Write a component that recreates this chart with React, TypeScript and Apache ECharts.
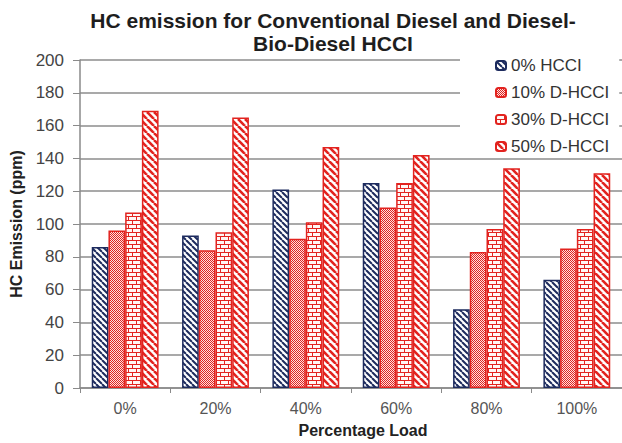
import React, { useEffect, useRef } from "react";
import * as echarts from "echarts";

const categories = ["0%", "20%", "40%", "60%", "80%", "100%"];
const seriesNames = ["0% HCCI", "10% D-HCCI", "30% D-HCCI", "50% D-HCCI"];
const hcci0 = [86, 93, 121, 125, 48, 66];
const dhcci10 = [96, 84, 91, 110, 83, 85];
const dhcci30 = [107, 95, 101, 125, 97, 97];
const dhcci50 = [169, 165, 147, 142, 134, 131];
const yTicks = [0, 20, 40, 60, 80, 100, 120, 140, 160, 180, 200];

const NAVY = "#1d2b5e";
const RED = "#e2231f";
const FONT = "'Liberation Sans', Arial, sans-serif";

function stripes(color: string, size: number, width: number) {
  const c = document.createElement("canvas");
  c.width = size;
  c.height = size;
  const g = c.getContext("2d")!;
  g.fillStyle = "#ffffff";
  g.fillRect(0, 0, size, size);
  g.strokeStyle = color;
  g.lineWidth = width;
  for (const off of [-size, 0, size]) {
    g.beginPath();
    g.moveTo(off, 0);
    g.lineTo(off + size, size);
    g.stroke();
  }
  return c;
}

function checker(color: string) {
  const c = document.createElement("canvas");
  c.width = 4;
  c.height = 4;
  const g = c.getContext("2d")!;
  g.fillStyle = "#fbe3e3";
  g.fillRect(0, 0, 4, 4);
  g.fillStyle = color;
  for (let x = 0; x < 4; x++) {
    for (let y = 0; y < 4; y++) {
      if ((x + y) % 2 === 0) g.fillRect(x, y, 1, 1);
    }
  }
  return c;
}

function bricks(color: string) {
  const c = document.createElement("canvas");
  c.width = 8;
  c.height = 8;
  const g = c.getContext("2d")!;
  g.fillStyle = "#fff6f4";
  g.fillRect(0, 0, 8, 8);
  g.fillStyle = color;
  g.fillRect(0, 0, 8, 1);
  g.fillRect(0, 4, 8, 1);
  g.fillRect(0, 0, 1, 4);
  g.fillRect(4, 4, 1, 4);
  return c;
}

export default function App() {
  const ref = useRef<HTMLDivElement>(null);
  useEffect(() => {
    if (!ref.current) return;
    const chart = echarts.init(ref.current, null, { renderer: "svg" });
    const fills = [
      { image: stripes(NAVY, 6, 2), repeat: "repeat" },
      { image: checker(RED), repeat: "repeat" },
      { image: bricks(RED), repeat: "repeat" },
      { image: stripes(RED, 7, 2.6), repeat: "repeat" },
    ];
    const borders = [NAVY, RED, RED, RED];
    const datas = [hcci0, dhcci10, dhcci30, dhcci50];
    chart.setOption({
      animation: false,
      backgroundColor: "#ffffff",
      textStyle: { fontFamily: FONT },
      title: {
        text: "HC emission for Conventional Diesel and Diesel-\nBio-Diesel HCCI",
        left: 328,
        top: 4,
        textAlign: "center",
        textStyle: {
          fontFamily: FONT,
          fontSize: 21,
          fontWeight: "bold",
          color: "#1e1e1e",
          lineHeight: 23,
        },
      },
      legend: {
        orient: "vertical",
        left: 460,
        top: 46,
        padding: [11, 10, 2, 35],
        backgroundColor: "#ffffff",
        itemWidth: 10,
        itemHeight: 9,
        itemGap: 10,
        data: seriesNames,
        textStyle: { fontFamily: FONT, fontSize: 17, color: "#333333" },
      },
      grid: { left: 80, right: 0, top: 60, bottom: 50, containLabel: false },
      xAxis: {
        type: "category",
        data: categories,
        name: "Percentage Load",
        nameLocation: "middle",
        nameGap: 34,
        nameTextStyle: {
          fontFamily: FONT,
          fontSize: 16,
          fontWeight: "bold",
          color: "#222222",
          padding: [0, 0, 0, 24],
        },
        axisLine: { lineStyle: { color: "#8a8a8a", width: 1.5 } },
        axisTick: { show: true, length: 5, lineStyle: { color: "#8a8a8a" } },
        axisLabel: { fontSize: 16, color: "#555555", margin: 12 },
      },
      yAxis: {
        type: "value",
        min: yTicks[0],
        max: yTicks[yTicks.length - 1],
        interval: 20,
        name: "HC Emission (ppm)",
        nameLocation: "middle",
        nameGap: 56,
        nameTextStyle: {
          fontFamily: FONT,
          fontSize: 16,
          fontWeight: "bold",
          color: "#222222",
        },
        axisLine: { show: true, lineStyle: { color: "#8a8a8a", width: 1.5 } },
        axisTick: { show: true, length: 7, lineStyle: { color: "#8a8a8a" } },
        axisLabel: { fontSize: 17, color: "#444444", margin: 16 },
        splitLine: { lineStyle: { color: "#8c8c8c", width: 1.5 } },
      },
      series: seriesNames.map((name, i) => ({
        name,
        type: "bar",
        data: datas[i],
        barGap: "0%",
        barCategoryGap: "26%",
        itemStyle: {
          color: fills[i],
          borderColor: borders[i],
          borderWidth: 1.5,
        },
      })),
    });
    return () => chart.dispose();
  }, []);
  return (
    <div
      ref={ref}
      style={{ position: "fixed", left: 0, top: 0, width: 622, height: 443 }}
    />
  );
}
